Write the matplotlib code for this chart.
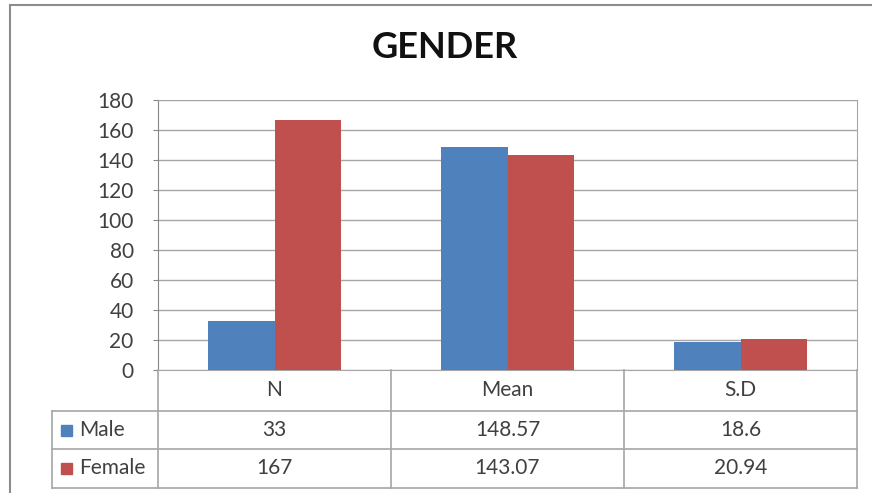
import numpy as np
import matplotlib.pyplot as plt
from matplotlib.patches import Rectangle

# donnees du graphique
categories = ['N', 'Mean', 'S.D']
series = ['Male', 'Female']
male = [33, 148.57, 18.6]
female = [167, 143.07, 20.94]
male_txt = ['33', '148.57', '18.6']
female_txt = ['167', '143.07', '20.94']
colors = ['#4F81BD', '#C0504D']

W, H = 872, 493
plt.rcParams['font.family'] = ['Lato', 'DejaVu Sans']
fig = plt.figure(figsize=(W/100, H/100), dpi=100)

def px(x0, y0, x1, y1):
    # rectangle en pixels (origine en haut a gauche) -> coordonnees figure
    return [x0/W, 1-y1/H, (x1-x0)/W, (y1-y0)/H]

txtc = '#404040'
gridc = '#A6A6A6'
fs = 15

# cadre exterieur (les bords droit et bas sortent de l'image)
fig.patches.append(Rectangle((10/W, -0.5), 2, 1.5-5/H, transform=fig.transFigure,
                             fill=False, ec='#8C8C8C', lw=1.5))

ax = fig.add_axes(px(158, 100, 857, 370))
x = np.arange(len(categories)) + 0.5
bw = 0.285
ax.bar(x - bw/2, male, bw, color=colors[0], zorder=3)
ax.bar(x + bw/2, female, bw, color=colors[1], zorder=3)
ax.set_xlim(0, 3)
ax.set_ylim(0, 180)
ax.set_yticks(range(0, 181, 20))
ax.set_xticks([])
ax.yaxis.grid(True, color=gridc, lw=1)
ax.set_axisbelow(True)
for s in ax.spines.values():
    s.set_color(gridc)
ax.spines['left'].set_color('#868686')
ax.tick_params(axis='y', length=3.5, color='#868686', labelsize=fs, labelcolor=txtc, pad=14)

fig.text(445/W, 1-48/H, 'GENDER', ha='center', va='center', fontsize=26,
         fontweight='bold', color='#111111')

# tableau de donnees sous le graphique (en pixels)
rows = [370, 411, 449, 488]
cols = [158, 391, 624, 857]
left = 52
tb = fig.add_axes(px(0, 0, W, H))
tb.set_xlim(0, W)
tb.set_ylim(H, 0)
tb.axis('off')
lk = dict(color=gridc, lw=1.2)
for yy in rows[1:]:
    tb.plot([left, cols[-1]], [yy, yy], **lk)
tb.plot([left, left], [rows[1], rows[-1]], **lk)
for xx in cols:
    tb.plot([xx, xx], [rows[0], rows[-1]], **lk)
for i, c in enumerate(categories):
    xc = (cols[i] + cols[i+1]) / 2
    for r, lab in enumerate([c, male_txt[i], female_txt[i]]):
        tb.text(xc, (rows[r] + rows[r+1]) / 2, lab, ha='center', va='center',
                fontsize=fs, color=txtc)
for j, s in enumerate(series):
    yc = (rows[j+1] + rows[j+2]) / 2
    tb.add_patch(Rectangle((61, yc - 5.5), 11, 11, color=colors[j]))
    tb.text(79, yc, s, ha='left', va='center', fontsize=fs, color=txtc)

fig.savefig('out.png', dpi=100)
